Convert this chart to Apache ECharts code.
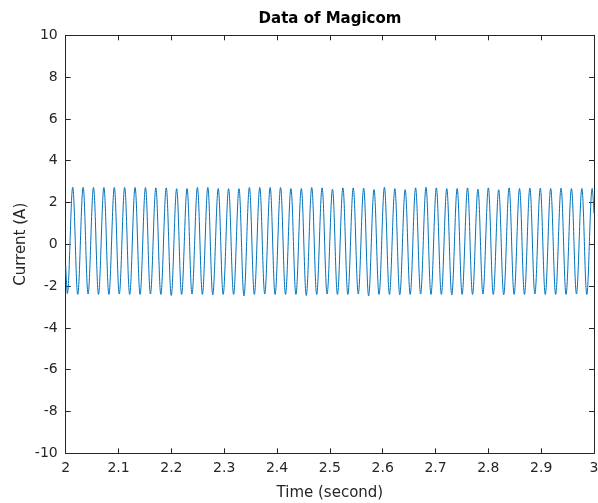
<!DOCTYPE html>
<html>
<head>
<meta charset="utf-8">
<script src="https://cdn.jsdelivr.net/npm/echarts@6/dist/echarts.min.js"></script>
<style>
html,body{margin:0;padding:0;background:#fff;}
#c{width:598px;height:503px;}
</style>
</head>
<body>
<div id="c"></div>
<script>
// Tick labels
var xTickLabels = ['2','2.1','2.2','2.3','2.4','2.5','2.6','2.7','2.8','2.9','3'];
var yTickLabels = ['-10','-8','-6','-4','-2','0','2','4','6','8','10'];

// Start / end of the trace (seconds, amperes)
var edgeTimes  = [2.0, 3.0];
var edgeValues = [-1.0, 1.48];

// Positive peaks of the current waveform
var peakTimes = [2.0133,2.0330,2.0526,2.0723,2.0920,2.1116,2.1313,2.1510,2.1706,2.1903,
  2.2100,2.2297,2.2493,2.2690,2.2887,2.3083,2.3280,2.3477,2.3673,2.3870,
  2.4067,2.4263,2.4460,2.4657,2.4853,2.5050,2.5247,2.5443,2.5640,2.5836,
  2.6033,2.6230,2.6426,2.6623,2.6820,2.7016,2.7213,2.7410,2.7606,2.7803,
  2.8000,2.8196,2.8393,2.8590,2.8786,2.8983,2.9180,2.9376,2.9573,2.9770,2.9966];
var peakValues = [2.73,2.73,2.72,2.72,2.72,2.72,2.72,2.72,2.70,2.70,
  2.66,2.67,2.72,2.72,2.67,2.66,2.66,2.72,2.72,2.72,
  2.72,2.67,2.67,2.72,2.70,2.64,2.70,2.70,2.69,2.62,
  2.73,2.66,2.62,2.70,2.73,2.70,2.67,2.67,2.70,2.64,
  2.70,2.61,2.70,2.67,2.69,2.69,2.67,2.69,2.67,2.67,2.67];

// Negative troughs of the current waveform
var troughTimes = [2.0031,2.0228,2.0424,2.0621,2.0818,2.1014,2.1211,2.1408,2.1604,2.1801,
  2.1998,2.2194,2.2391,2.2588,2.2784,2.2981,2.3178,2.3374,2.3571,2.3768,
  2.3964,2.4161,2.4358,2.4554,2.4751,2.4948,2.5144,2.5341,2.5538,2.5734,
  2.5931,2.6128,2.6324,2.6521,2.6718,2.6914,2.7111,2.7308,2.7504,2.7701,
  2.7898,2.8094,2.8291,2.8488,2.8684,2.8881,2.9078,2.9274,2.9471,2.9668,2.9864];
var troughValues = [-2.36,-2.40,-2.38,-2.40,-2.40,-2.38,-2.40,-2.40,-2.38,-2.40,
  -2.45,-2.40,-2.38,-2.40,-2.42,-2.40,-2.40,-2.47,-2.40,-2.38,
  -2.40,-2.40,-2.40,-2.45,-2.40,-2.38,-2.40,-2.40,-2.38,-2.47,
  -2.40,-2.40,-2.42,-2.40,-2.38,-2.40,-2.40,-2.42,-2.40,-2.40,
  -2.38,-2.40,-2.42,-2.40,-2.40,-2.38,-2.40,-2.40,-2.40,-2.38,-2.40];

var pts = [];
edgeTimes.forEach(function(t,i){ pts.push([t, edgeValues[i]]); });
peakTimes.forEach(function(t,i){ pts.push([t, peakValues[i]]); });
troughTimes.forEach(function(t,i){ pts.push([t, troughValues[i]]); });
pts.sort(function(a,b){ return a[0]-b[0]; });

var xMin = +xTickLabels[0], xMax = +xTickLabels[xTickLabels.length-1];
var yMin = +yTickLabels[0], yMax = +yTickLabels[yTickLabels.length-1];
var axisColor = '#262626';
var font = '"DejaVu Sans", sans-serif';

function fmtX(v){ var s = (Math.round(v*10)/10).toString(); return xTickLabels.indexOf(s) >= 0 ? s : ''; }

var chart = echarts.init(document.getElementById('c'), null, {renderer:'canvas'});
chart.setOption({
  animation: false,
  backgroundColor: '#ffffff',
  title: {
    text: 'Data of Magicom',
    left: 330, top: 12, padding: 0,
    textAlign: 'center',
    textStyle: {fontFamily: font, fontSize: 15, fontWeight: 'bold', color: '#000'}
  },
  grid: {left: 65.7, right: 4, top: 35.3, bottom: 49.7, containLabel: false, outerBoundsMode: 'none'},
  xAxis: [{
    type: 'value', min: xMin, max: xMax, interval: 0.1, position: 'bottom',
    name: 'Time (second)', nameLocation: 'middle', nameGap: 32, nameMoveOverlap: false,
    nameTextStyle: {fontFamily: font, fontSize: 15, color: axisColor},
    axisLine: {onZero: false, lineStyle: {color: axisColor, width: 1}},
    axisTick: {inside: true, length: 5, lineStyle: {color: axisColor}},
    axisLabel: {margin: 8, fontFamily: font, fontSize: 14, color: axisColor, formatter: fmtX},
    splitLine: {show: false}
  },{
    type: 'value', min: xMin, max: xMax, interval: 0.1, position: 'top',
    axisLine: {onZero: false, lineStyle: {color: axisColor, width: 1}},
    axisTick: {inside: true, length: 5, lineStyle: {color: axisColor}},
    axisLabel: {show: false}, splitLine: {show: false}
  }],
  yAxis: [{
    type: 'value', min: yMin, max: yMax, interval: 2, position: 'left',
    name: 'Current (A)', nameLocation: 'middle', nameGap: 37, nameMoveOverlap: false,
    nameTextStyle: {fontFamily: font, fontSize: 15, color: axisColor},
    axisLine: {show: true, onZero: false, lineStyle: {color: axisColor, width: 1}},
    axisTick: {show: true, inside: true, length: 5, lineStyle: {color: axisColor}},
    axisLabel: {margin: 8, fontFamily: font, fontSize: 14, color: axisColor},
    splitLine: {show: false}
  },{
    type: 'value', min: yMin, max: yMax, interval: 2, position: 'right',
    axisLine: {show: true, onZero: false, lineStyle: {color: axisColor, width: 1}},
    axisTick: {show: true, inside: true, length: 5, lineStyle: {color: axisColor}},
    axisLabel: {show: false}, splitLine: {show: false}
  }],
  series: [{
    type: 'line', xAxisIndex: 0, yAxisIndex: 0,
    data: pts, showSymbol: false, symbol: 'none',
    smooth: 0.36,
    lineStyle: {color: '#0072BD', width: 1},
    clip: true
  }]
});
</script>
</body>
</html>
